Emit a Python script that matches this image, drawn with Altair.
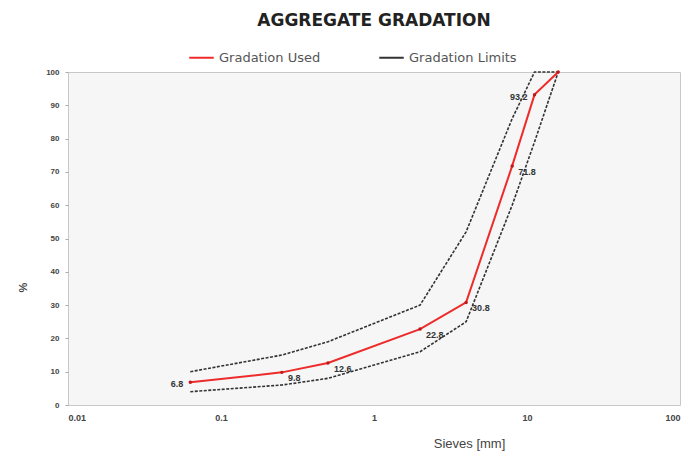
import altair as alt
import pandas as pd

# Sieve sizes (mm) and passing percentages
sieves = [0.063, 0.25, 0.5, 2, 4, 8, 11.2, 16]
used = [6.8, 9.8, 12.6, 22.8, 30.8, 71.8, 93.2, 100.0]
upper = [10, 15, 19, 30, 52, 86, 100, 100]
lower = [4, 6, 8, 16, 25, 60, 79, 100]
label_text = ["6.8", "9.8", "12.6", "22.8", "30.8", "71.8", "93.2", ""]

x_ticks = [0.01, 0.1, 1, 10, 100]
y_ticks = list(range(0, 101, 10))

rows = []
for s, u in zip(sieves, used):
    rows.append({"size": s, "pass": u, "series": "used", "group": "Gradation Used"})
for s, u in zip(sieves, upper):
    rows.append({"size": s, "pass": u, "series": "upper", "group": "Gradation Limits"})
for s, u in zip(sieves, lower):
    rows.append({"size": s, "pass": u, "series": "lower", "group": "Gradation Limits"})
df = pd.DataFrame(rows)

lab = pd.DataFrame({"size": sieves, "pass": used, "label": label_text})

FONT = "Liberation Sans"

xenc = alt.X(
    "size:Q",
    scale=alt.Scale(type="log", domain=[0.01, 100], nice=False),
    axis=alt.Axis(
        values=x_ticks,
        labelExpr="datum.value + ''",
        title="Sieves [mm]",
        titleX=401,
        titleY=38,
        titleAlign="center",
        titleBaseline="middle",
        titleFontSize=13,
        titleFontWeight="normal",
        titleColor="#444",
        labelFontSize=9,
        labelColor="#444",
        labelFontWeight="bold",
        labelOverlap=False,
        grid=False,
        domain=False,
        ticks=False,
        labelPadding=8,
    ),
)
yenc = alt.Y(
    "pass:Q",
    scale=alt.Scale(domain=[0, 100], nice=False),
    axis=alt.Axis(
        values=y_ticks,
        title="%",
        titleX=-40,
        titleY=215,
        titleFontSize=11,
        titleColor="#444",
        titleFontWeight="bold",
        labelFontSize=8,
        labelColor="#444",
        labelFontWeight="bold",
        labelOverlap=False,
        grid=False,
        domain=False,
        tickSize=3,
        tickColor="#aaa",
        labelPadding=6,
    ),
)

color = alt.Color(
    "group:N",
    scale=alt.Scale(domain=["Gradation Used", "Gradation Limits"], range=["#ee2b2b", "#333333"]),
    legend=alt.Legend(
        title=None,
        orient="none",
        legendX=120,
        legendY=-28,
        direction="horizontal",
        symbolType="stroke",
        symbolStrokeWidth=2,
        symbolSize=600,
        labelFontSize=13,
        labelColor="#555",
        labelFont="DejaVu Sans",
        columnPadding=54,
    ),
)

limits = (
    alt.Chart(df)
    .transform_filter("datum.group == 'Gradation Limits'")
    .mark_line(strokeWidth=1.6, strokeDash=[3, 1.5])
    .encode(x=xenc, y=yenc, color=color, detail="series:N")
)
used_line = (
    alt.Chart(df)
    .transform_filter("datum.group == 'Gradation Used'")
    .mark_line(strokeWidth=2)
    .encode(x=xenc, y=yenc, color=color)
)
used_pts = (
    alt.Chart(df)
    .transform_filter("datum.group == 'Gradation Used'")
    .mark_point(filled=True, size=12, color="#c01818", opacity=1)
    .encode(x=xenc, y=yenc)
)

txt_style = dict(fontSize=9, fontWeight="bold", color="#333", font=FONT)
labels_right = (
    alt.Chart(lab)
    .transform_filter("datum.label == '6.8' || datum.label == '93.2'")
    .mark_text(align="right", dx=-7, dy=2, **txt_style)
    .encode(x=xenc, y=yenc, text="label:N")
)
labels_left = (
    alt.Chart(lab)
    .transform_filter("datum.label != '6.8' && datum.label != '93.2' && datum.label != ''")
    .mark_text(align="left", dx=6, dy=6, **txt_style)
    .encode(x=xenc, y=yenc, text="label:N")
)

chart = (
    alt.layer(limits, used_line, used_pts, labels_right, labels_left)
    .properties(
        width=612,
        height=333,
        padding={"left": 60, "top": 64, "right": 3, "bottom": 52},
        autosize=alt.AutoSizeParams(type="none"),
        title=alt.TitleParams(
            "AGGREGATE GRADATION",
            fontSize=17,
            fontWeight="bold",
            font="DejaVu Sans",
            color="#222",
            anchor="middle",
            offset=14,
        ),
        background="white",
    )
    .configure_view(fill="#f6f6f6", stroke="#c8c8c8", strokeWidth=1)
    .configure_axis(labelFont=FONT, titleFont=FONT)
    .configure_axisY(labelOverlap=False)
)

chart.save("out.html", embed_options={"renderer": "svg", "actions": False})
